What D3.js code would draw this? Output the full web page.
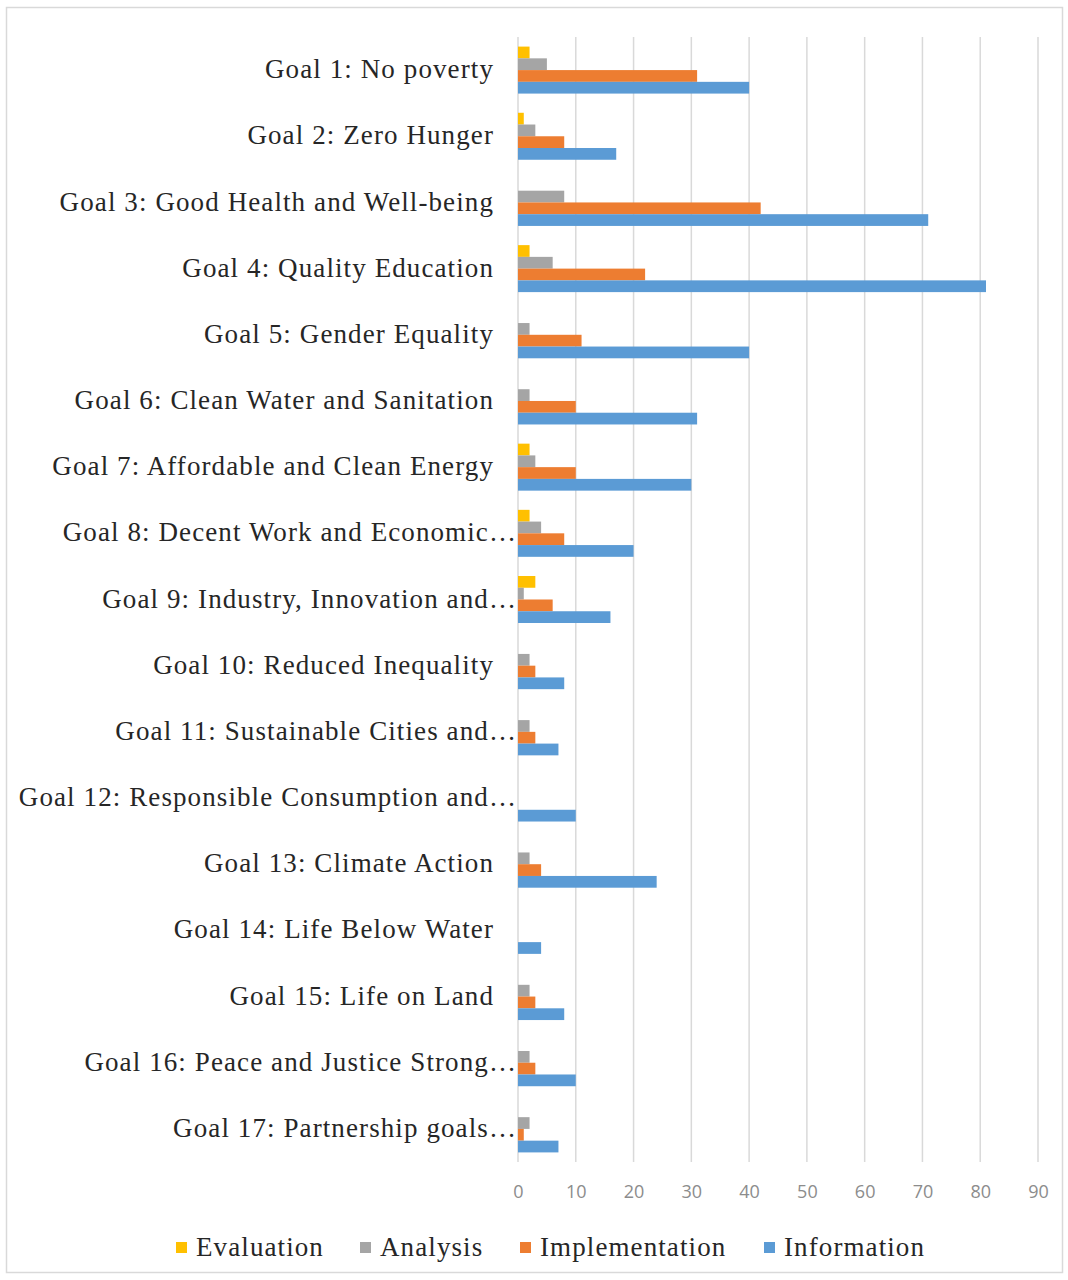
<!DOCTYPE html>
<html>
<head>
<meta charset="utf-8">
<script src="https://cdn.jsdelivr.net/npm/d3@7"></script>
<style>
  html, body { margin: 0; padding: 0; background: #ffffff; }
  svg { display: block; }
</style>
</head>
<body>
<svg id="chart" width="1068" height="1280"></svg>
<script>
// SDG goals (top to bottom) and the four activity series
const goals = [
  "Goal 1: No poverty",
  "Goal 2: Zero Hunger",
  "Goal 3: Good Health and Well-being",
  "Goal 4: Quality Education",
  "Goal 5: Gender Equality",
  "Goal 6: Clean Water and Sanitation",
  "Goal 7: Affordable and Clean Energy",
  "Goal 8: Decent Work and Economic…",
  "Goal 9: Industry, Innovation and…",
  "Goal 10: Reduced Inequality",
  "Goal 11: Sustainable Cities and…",
  "Goal 12: Responsible Consumption and…",
  "Goal 13: Climate Action",
  "Goal 14: Life Below Water",
  "Goal 15: Life on Land",
  "Goal 16: Peace and Justice Strong…",
  "Goal 17: Partnership goals…"
];

const seriesNames = ["Evaluation", "Analysis", "Implementation", "Information"];

const evaluation     = [2, 1, 0, 2, 0, 0, 2, 2, 3, 0, 0, 0, 0, 0, 0, 0, 0];
const analysis       = [5, 3, 8, 6, 2, 2, 3, 4, 1, 2, 2, 0, 2, 0, 2, 2, 2];
const implementation = [31, 8, 42, 22, 11, 10, 10, 8, 6, 3, 3, 0, 4, 0, 3, 3, 1];
const information    = [40, 17, 71, 81, 40, 31, 30, 20, 16, 8, 7, 10, 24, 4, 8, 10, 7];

const xTicks = [0, 10, 20, 30, 40, 50, 60, 70, 80, 90];

const seriesColors = ["#FFC000", "#A5A5A5", "#ED7D31", "#5B9BD5"];
const seriesValues = [evaluation, analysis, implementation, information];

const labelFont = "'Liberation Serif', 'Times New Roman', serif";

const svg = d3.select("#chart");

// outer chart frame
svg.append("rect")
  .attr("x", 6.5).attr("y", 7.5)
  .attr("width", 1056).attr("height", 1265)
  .attr("fill", "#ffffff")
  .attr("stroke", "#d9d9d9")
  .attr("stroke-width", 1.5);

const x = d3.scaleLinear().domain([0, 90]).range([518, 1038]);

const y = d3.scaleBand()
  .domain(goals)
  .range([37, 1162])
  .paddingInner(0.29)
  .paddingOuter(0.145);

const ySub = d3.scaleBand()
  .domain(seriesNames)
  .range([0, y.bandwidth()])
  .padding(0);

const color = d3.scaleOrdinal().domain(seriesNames).range(seriesColors);

// vertical gridlines
svg.append("g")
  .selectAll("line")
  .data(xTicks)
  .join("line")
  .attr("x1", d => x(d)).attr("x2", d => x(d))
  .attr("y1", 37).attr("y2", 1162)
  .attr("stroke", "#d9d9d9")
  .attr("stroke-width", 1.5);

// bars
const rows = goals.map((g, i) => ({
  goal: g,
  values: seriesNames.map((s, j) => ({ series: s, value: seriesValues[j][i] }))
}));

const groups = svg.append("g")
  .selectAll("g")
  .data(rows)
  .join("g")
  .attr("transform", d => `translate(0,${y(d.goal)})`);

groups.selectAll("rect")
  .data(d => d.values)
  .join("rect")
  .attr("x", x(0))
  .attr("y", d => ySub(d.series))
  .attr("width", d => x(d.value) - x(0))
  .attr("height", ySub.bandwidth())
  .attr("fill", d => color(d.series));

// category labels
svg.append("g")
  .selectAll("text")
  .data(goals)
  .join("text")
  .attr("x", d => d.endsWith("…") ? 517 : 494)
  .attr("y", d => y(d) + y.bandwidth() / 2)
  .attr("dy", "0.3em")
  .attr("text-anchor", "end")
  .attr("font-family", labelFont)
  .attr("font-size", 27)
  .attr("letter-spacing", 1.1)
  .attr("fill", "#262626")
  .text(d => d);

// x axis tick labels
const xAxis = d3.axisBottom(x).tickValues(xTicks).tickSize(0).tickPadding(0);
const axisG = svg.append("g")
  .attr("transform", "translate(0,1185)")
  .call(xAxis);
axisG.select(".domain").remove();
axisG.selectAll("text")
  .attr("font-family", "'Open Sans', 'Liberation Sans', sans-serif")
  .attr("font-size", 18)
  .attr("fill", "#8c8c8c");

// legend
const legendItems = [
  { name: "Evaluation", x: 176 },
  { name: "Analysis", x: 360 },
  { name: "Implementation", x: 520 },
  { name: "Information", x: 764 }
];
const legend = svg.append("g").attr("transform", "translate(0,1247)");
const li = legend.selectAll("g")
  .data(legendItems)
  .join("g")
  .attr("transform", d => `translate(${d.x},0)`);
li.append("rect")
  .attr("x", 0).attr("y", -5)
  .attr("width", 11).attr("height", 11)
  .attr("fill", d => color(d.name));
li.append("text")
  .attr("x", 20)
  .attr("y", 0)
  .attr("dy", "0.33em")
  .attr("font-family", labelFont)
  .attr("font-size", 27)
  .attr("letter-spacing", 1.1)
  .attr("fill", "#262626")
  .text(d => d.name);
</script>
</body>
</html>
